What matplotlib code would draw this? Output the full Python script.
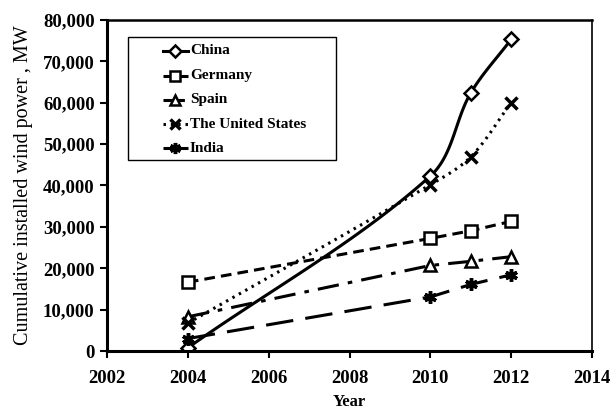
import numpy as np
import matplotlib.pyplot as plt
from matplotlib.patches import Rectangle
from matplotlib.lines import Line2D

plt.rcParams['font.family'] = ['Liberation Serif', 'DejaVu Serif']

years = [2004, 2010, 2011, 2012]
china = [764, 42287, 62364, 75324]
germany = [16629, 27214, 29060, 31332]
spain = [8263, 20676, 21674, 22796]
usa = [6725, 40180, 46919, 60007]
india = [3000, 13065, 16084, 18421]
names = ['China', 'Germany', 'Spain', 'The United States', 'India']

W, H = 610, 409


def smooth(ax, xs, ys, n=40):
    # smoothed line like excel: bezier segments, worked out in pixel space
    pts = ax.transData.transform(np.column_stack([xs, ys]))
    out = [pts[0]]
    for i in range(len(pts) - 1):
        p0 = pts[i - 1] if i > 0 else pts[i]
        p1 = pts[i]
        p2 = pts[i + 1]
        p3 = pts[i + 2] if i + 2 < len(pts) else pts[i + 1]
        d = np.linalg.norm(p2 - p1)
        t1 = (p2 - p0) / np.linalg.norm(p2 - p0)
        t2 = (p3 - p1) / np.linalg.norm(p3 - p1)
        c1 = p1 + t1 * d / 3
        c2 = p2 - t2 * d / 3
        t = np.linspace(0, 1, n)[1:, None]
        seg = (1 - t) ** 3 * p1 + 3 * (1 - t) ** 2 * t * c1 + 3 * (1 - t) * t ** 2 * c2 + t ** 3 * p2
        out.extend(seg)
    out = ax.transData.inverted().transform(np.array(out))
    return out[:, 0], out[:, 1]


fig = plt.figure(figsize=(W / 100, H / 100), dpi=100)
ax = fig.add_axes([107 / W, 1 - 351 / H, 485 / W, 331 / H])
ax.set_xlim(2002, 2014)
ax.set_ylim(0, 80000)

lw = 2.2
mew = 1.8
styles = [
    dict(ls='-', marker='D', ms=7, mfc='white', mew=mew),
    dict(ls=(0, (3.5, 2)), marker='s', ms=8, mfc='white', mew=mew),
    dict(ls=(0, (7, 3, 1.5, 3)), marker='^', ms=8, mfc='white', mew=mew),
    dict(ls=(0, (0.8, 1.6)), marker='x', ms=8, mew=2.5),
    dict(ls=(0, (9, 4)), marker=(6, 2, 0), ms=9, mew=2.5),
]
series = [china, germany, spain, usa, india]
smoothed = [True, False, False, True, False]

for vals, st, sm in zip(series, styles, smoothed):
    mk = {k: v for k, v in st.items() if k != 'ls'}
    if sm:
        sx, sy = smooth(ax, years, vals)
        ax.plot(sx, sy, color='black', lw=lw, ls=st['ls'])
        ax.plot(years, vals, ls='none', mec='black', color='black', **mk)
    else:
        ax.plot(years, vals, color='black', lw=lw, ls=st['ls'], mec='black', **mk)

# legend box drawn by hand to match the original spacing
box = Rectangle((128 / W, 1 - 160 / H), 208 / W, 123 / H, transform=fig.transFigure,
                facecolor='white', edgecolor='black', lw=1.0, zorder=5)
fig.patches.append(box)
rows = [51, 76, 100, 124, 148]
for name, st, yy in zip(names, styles, rows):
    fy = 1 - yy / H
    mk = {k: v for k, v in st.items() if k != 'ls'}
    mk['ms'] = mk['ms'] - 1
    fig.add_artist(Line2D([163 / W, 188 / W], [fy, fy], color='black', lw=lw, ls=st['ls'],
                          transform=fig.transFigure, zorder=6))
    fig.add_artist(Line2D([175.5 / W], [fy], ls='none', mec='black', color='black',
                          transform=fig.transFigure, zorder=7, **mk))
    fig.text(190 / W, fy, name, fontsize=11, fontweight='bold', va='center', ha='left', zorder=7)

ax.set_xticks(range(2002, 2015, 2))
ax.set_yticks(range(0, 80001, 10000))
ax.set_yticklabels([f'{v:,}' for v in range(0, 80001, 10000)])
ax.tick_params(direction='out', length=5, width=1.5, labelsize=13.5, pad=4)
ax.tick_params(axis='x', pad=9)
for lab in ax.get_xticklabels() + ax.get_yticklabels():
    lab.set_fontweight('bold')

for s in ['left', 'bottom']:
    ax.spines[s].set_linewidth(2.2)
ax.spines['top'].set_linewidth(1.8)
ax.spines['right'].set_linewidth(1.2)

ax.set_xlabel('Year', fontsize=12, fontweight='bold', labelpad=5)
ax.set_ylabel('Cumulative installed wind power , MW', fontsize=14.5, labelpad=7)

fig.savefig('out.png', dpi=100)
